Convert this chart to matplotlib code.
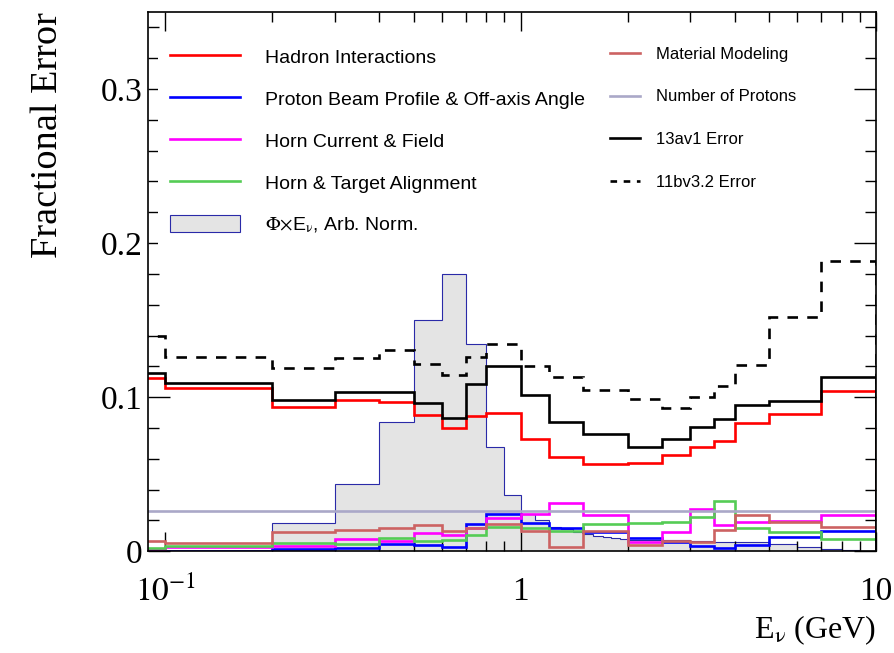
import numpy as np
import matplotlib
matplotlib.use('Agg')
from matplotlib import pyplot as plt
from matplotlib.lines import Line2D
from matplotlib.patches import Patch
from matplotlib.ticker import FixedLocator, NullFormatter

plt.rcParams['font.family'] = ['Liberation Serif', 'DejaVu Serif']
plt.rcParams['mathtext.fontset'] = 'stix'

# bin edges (GeV) of the error histograms
edges = [0.0, 0.1, 0.2, 0.3, 0.4, 0.5, 0.6, 0.7, 0.8, 1.0, 1.2, 1.5,
         2.0, 2.5, 3.0, 3.5, 4.0, 5.0, 7.0, 10.0]

hadron = [0.1127, 0.1058, 0.0935, 0.0982, 0.0971, 0.0885, 0.0799, 0.0881, 0.0896, 0.0727,
          0.0614, 0.0565, 0.0575, 0.0625, 0.0675, 0.0716, 0.0835, 0.0890, 0.1043]
beam = [0.0003, 0.0004, 0.0015, 0.0020, 0.0045, 0.0041, 0.0026, 0.0180, 0.0240, 0.0186,
        0.0153, 0.0128, 0.0089, 0.0060, 0.0034, 0.0020, 0.0041, 0.0091, 0.0134]
horn_current = [0.0015, 0.0030, 0.0036, 0.0080, 0.0069, 0.0117, 0.0106, 0.0153, 0.0216, 0.0242,
                0.0316, 0.0236, 0.0062, 0.0123, 0.0277, 0.0171, 0.0188, 0.0199, 0.0238]
alignment = [0.0020, 0.0035, 0.0052, 0.0047, 0.0084, 0.0067, 0.0073, 0.0106, 0.0160, 0.0149,
             0.0132, 0.0175, 0.0186, 0.0188, 0.0221, 0.0327, 0.0149, 0.0123, 0.0078]
material = [0.0067, 0.0052, 0.0123, 0.0138, 0.0153, 0.0171, 0.0132, 0.0153, 0.0176, 0.0132,
            0.0025, 0.0132, 0.0041, 0.0065, 0.0058, 0.0138, 0.0234, 0.0190, 0.0160]
protons = [0.026, 0.026, 0.026, 0.026, 0.026, 0.026, 0.026, 0.026, 0.026, 0.026,
           0.026, 0.026, 0.026, 0.026, 0.026, 0.026, 0.026, 0.026, 0.026]
total_13av1 = [0.1160, 0.1090, 0.0985, 0.1035, 0.1035, 0.0960, 0.0865, 0.1087, 0.1201, 0.1011,
               0.0838, 0.0764, 0.0675, 0.0727, 0.0809, 0.0859, 0.0952, 0.0976, 0.1130]
total_11bv32 = [0.1400, 0.1260, 0.1188, 0.1257, 0.1307, 0.1216, 0.1145, 0.1260, 0.1346, 0.1201,
                0.1134, 0.1047, 0.0987, 0.0932, 0.1004, 0.1075, 0.1208, 0.1521, 0.1887]

# flux x E, arbitrary normalisation
flux_edges = [0.0, 0.1, 0.2, 0.3, 0.4, 0.5, 0.6, 0.7, 0.8, 0.9, 1.0,
              1.1, 1.2, 1.3, 1.4, 1.5, 1.6, 1.7, 1.8, 1.9, 2.0,
              2.5, 3.0, 3.5, 4.0, 4.5, 5.0, 6.0, 7.0, 8.0, 9.0, 10.0]
flux = [0.0, 0.0, 0.0182, 0.0439, 0.0840, 0.1500, 0.1800, 0.1346, 0.0679, 0.0362,
        0.0240, 0.0200, 0.0155, 0.0143, 0.0127, 0.0110, 0.0100, 0.0092, 0.0085, 0.0080,
        0.0074, 0.0070, 0.0064, 0.0060, 0.0062, 0.0060, 0.0045, 0.0030, 0.0015, 0.0009, 0.0003]


def log_safe(e):
    e = np.array(e, dtype=float)
    e[e <= 0] = 1e-3
    return e


fig = plt.figure(figsize=(8.95, 6.53), dpi=100)
ax = fig.add_axes([0.1654, 0.1558, 0.8135, 0.8258])
ax.set_xscale('log')

lw = 1.9
ax.stairs(flux, log_safe(flux_edges), fill=True, color='#e4e4e4', zorder=1)
ax.stairs(flux, log_safe(flux_edges), color='#2a2aa8', lw=0.8, zorder=1.5)
e = log_safe(edges)
ax.stairs(hadron, e, color='#ff0000', lw=lw, zorder=2)
ax.stairs(beam, e, color='#0000ff', lw=lw, zorder=2)
ax.stairs(horn_current, e, color='#ff00ff', lw=lw, zorder=2)
ax.stairs(alignment, e, color='#55cc55', lw=lw, zorder=2)
ax.stairs(material, e, color='#cc6262', lw=lw, zorder=2.1)
ax.stairs(protons, e, color='#aaa8c8', lw=lw, zorder=2.2)
ax.stairs(total_13av1, e, color='black', lw=lw, zorder=2.3)
ax.stairs(total_11bv32, e, color='black', lw=lw, ls=(0, (4, 3.5)), zorder=2.3)

ax.set_xlim(0.0895, 10)
ax.set_ylim(0, 0.35)

ax.set_xticks([0.1, 1, 10], [r'$10^{-1}$', '1', '10'])
ax.xaxis.set_minor_locator(FixedLocator([0.2, 0.3, 0.4, 0.5, 0.6, 0.7, 0.8, 0.9,
                                         2, 3, 4, 5, 6, 7, 8, 9]))
ax.xaxis.set_minor_formatter(NullFormatter())
ax.set_yticks([0, 0.1, 0.2, 0.3], ['0', '0.1', '0.2', '0.3'])
ax.yaxis.set_minor_locator(FixedLocator(np.arange(0, 0.351, 0.02)))
ax.tick_params(which='both', direction='in', top=True, right=True, width=1, labelsize=24)
ax.tick_params(axis='x', which='major', length=14, pad=18)
ax.tick_params(axis='x', which='minor', length=7)
ax.tick_params(axis='y', which='major', length=16, pad=4)
ax.tick_params(axis='y', which='minor', length=8)
for s in ax.spines.values():
    s.set_linewidth(1.2)

ax.set_ylabel('Fractional Error', fontsize=27.5, loc='top')
ax.yaxis.set_label_coords(-0.114, 1.0)
ax.set_xlabel(r'E$_{\mathrm{\nu}}$ (GeV)', fontsize=23, loc='right', labelpad=4)

left_handles = [
    Line2D([], [], color='#ff0000', lw=lw),
    Line2D([], [], color='#0000ff', lw=lw),
    Line2D([], [], color='#ff00ff', lw=lw),
    Line2D([], [], color='#55cc55', lw=lw),
    Patch(facecolor='#e4e4e4', edgecolor='#2a2aa8', lw=0.8),
]
left_labels = ['Hadron Interactions', 'Proton Beam Profile & Off-axis Angle',
               'Horn Current & Field', 'Horn & Target Alignment',
               r'$\Phi$$\times$E$_{\mathrm{\nu}}$, Arb. Norm.']
leg1 = ax.legend(left_handles, left_labels, loc='upper left', bbox_to_anchor=(0.0142, 0.956),
                 borderaxespad=0, borderpad=0.6, frameon=True, fancybox=False,
                 facecolor='white', edgecolor='none', framealpha=1,
                 prop={'family': 'Liberation Sans', 'size': 14},
                 handlelength=3.6, handleheight=1.0, handletextpad=1.28, labelspacing=1.16)
ax.add_artist(leg1)

right_handles = [
    Line2D([], [], color='#cc6262', lw=lw),
    Line2D([], [], color='#aaa8c8', lw=lw),
    Line2D([], [], color='black', lw=lw),
    Line2D([], [], color='black', lw=lw, ls=(0, (2.5, 2.5))),
]
right_labels = ['Material Modeling', 'Number of Protons', '13av1 Error', '11bv3.2 Error']
ax.legend(right_handles, right_labels, loc='upper left', bbox_to_anchor=(0.621, 0.954),
          borderaxespad=0, borderpad=0.6, frameon=True, fancybox=False,
          facecolor='white', edgecolor='none', framealpha=1,
          prop={'family': 'Liberation Sans', 'size': 12},
          handlelength=1.8, handletextpad=0.96, labelspacing=1.66)

fig.savefig('out.png', dpi=100)
